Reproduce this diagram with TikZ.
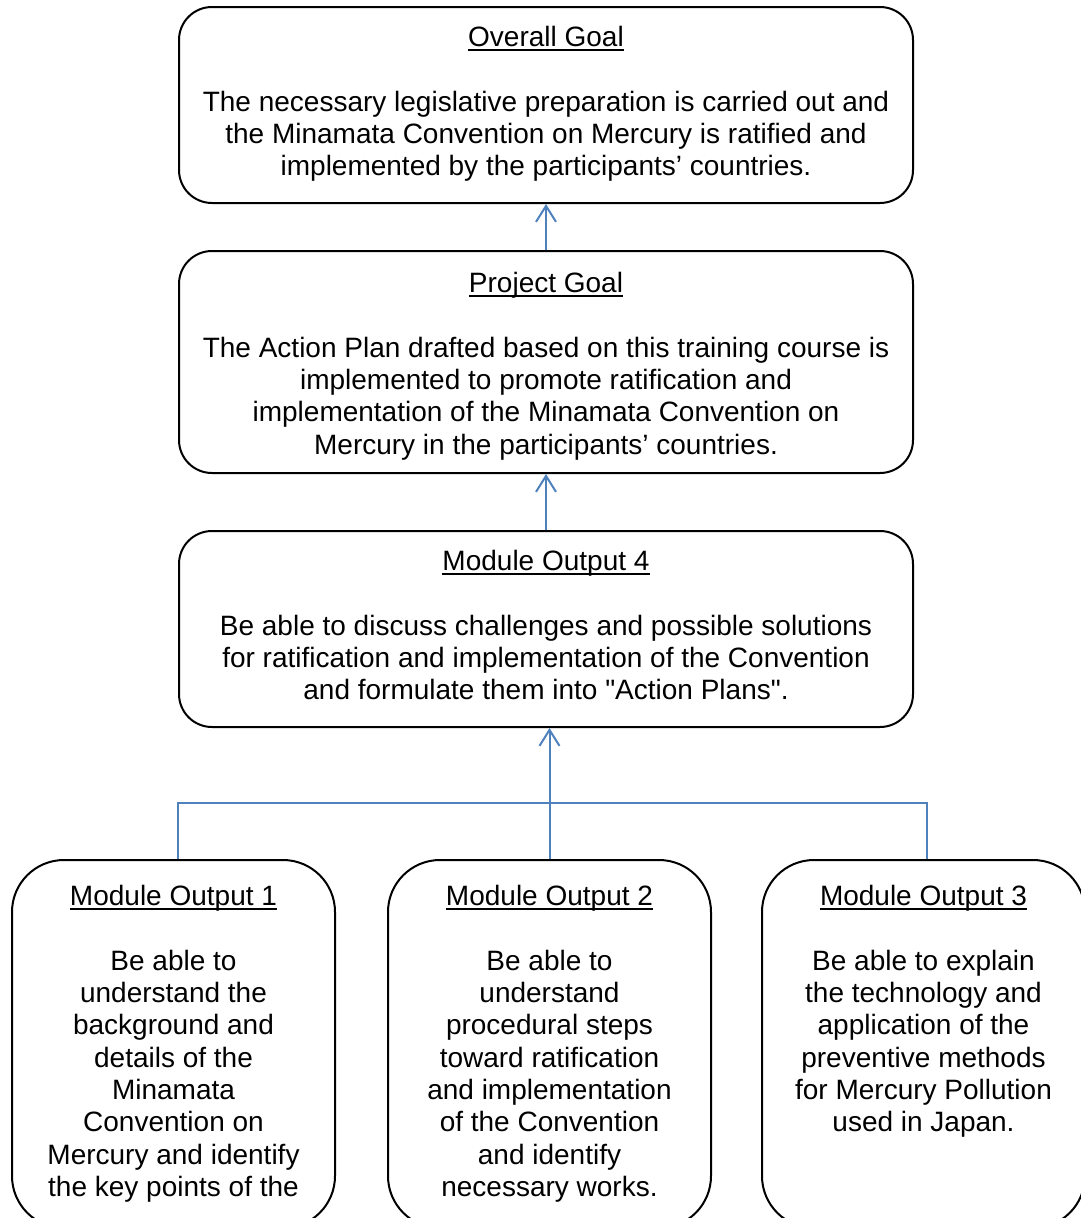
\documentclass[tikz,border=0pt]{standalone}
\usepackage{fontspec}
\setmainfont{Liberation Sans}
\usetikzlibrary{arrows.meta}
\definecolor{connblue}{HTML}{4F81BD}
\newcommand\myul[1]{\setbox0\hbox{#1}\rlap{\rule[-4.5pt]{\wd0}{1.8pt}}\box0}
\tikzset{
  topbox/.style={draw=black, line width=2pt, rounded corners=33pt, minimum width=734pt, inner sep=0pt},
  botbox/.style={draw=black, line width=2pt, rounded corners=52pt, minimum width=323pt, minimum height=368pt, inner sep=0pt},
  boxtext/.style={anchor=north, inner sep=0pt, align=center, font=\fontsize{28}{32.3}\selectfont},
  conn/.style={draw=connblue, line width=2pt},
  arr/.style={conn, -{Straight Barb[length=16pt, width=20pt, line width=2pt]}}
}
\begin{document}
\begin{tikzpicture}[x=1pt,y=-1pt]
\useasboundingbox (0,0) rectangle (1081,1218);
\clip (0,0) rectangle (1081,1218);
% boxes
\node[topbox, minimum height=196pt] (og) at (546,105) {};
\node[topbox, minimum height=222pt] (pg) at (546,362) {};
\node[topbox, minimum height=196pt] (mo4) at (546,629) {};
\node[botbox] (mo1) at (173.5,1044) {};
\node[botbox] (mo2) at (549.5,1044) {};
\node[botbox] (mo3) at (923.5,1044) {};
% texts
\node[boxtext] (ogt) at (546,23.6) {\strut\myul{Overall Goal}\\[32.3pt]
The necessary legislative preparation is carried out and\\
the Minamata Convention on Mercury is ratified and\\
implemented by the participants’ countries.};
\node[boxtext] (pgt) at (546,269.8) {\strut\myul{Project Goal}\\[32.3pt]
The Action Plan drafted based on this training course is\\
implemented to promote ratification and\\
implementation of the Minamata Convention on\\
Mercury in the participants’ countries.};
\node[boxtext] (mo4t) at (546,547.8) {\strut\myul{Module Output 4}\\[32.3pt]
Be able to discuss challenges and possible solutions\\
for ratification and implementation of the Convention\\
and formulate them into \textquotedbl Action Plans\textquotedbl.};
\node[boxtext] (mo1t) at (173.5,882.8) {\strut\myul{Module Output 1}\\[32.3pt]
Be able to\\ understand the\\ background and\\ details of the\\ Minamata\\ Convention on\\ Mercury and identify\\ the key points of the};
\node[boxtext] (mo2t) at (549.5,882.8) {\strut\myul{Module Output 2}\\[32.3pt]
Be able to\\ understand\\ procedural steps\\ toward ratification\\ and implementation\\ of the Convention\\ and identify\\ necessary works.};
\node[boxtext] (mo3t) at (923.5,882.8) {\strut\myul{Module Output 3}\\[32.3pt]
Be able to explain\\ the technology and\\ application of the\\ preventive methods\\ for Mercury Pollution\\ used in Japan.};
% connectors
\coordinate (jl) at (178,803);
\coordinate (jr) at (927,803);
\draw[arr] (pg.north) -- (og.south);
\draw[arr] (mo4.north) -- (pg.south);
\draw[arr] (mo2.north) -- (mo2.north |- mo4.south);
\draw[conn] (jl |- mo1.north) -- (jl) -- (jr) -- (jr |- mo3.north);
\end{tikzpicture}
\end{document}
